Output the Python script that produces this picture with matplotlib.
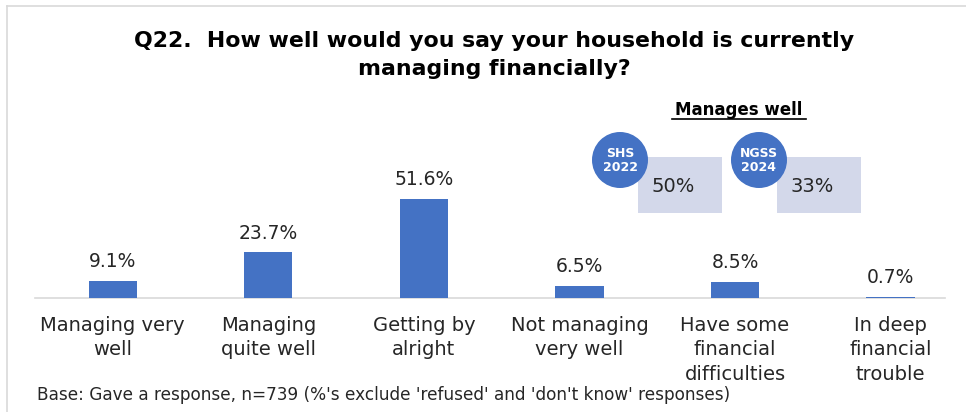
import matplotlib.pyplot as plt
from matplotlib.patches import Rectangle, Circle

categories = [
    "Managing very\nwell",
    "Managing\nquite well",
    "Getting by\nalright",
    "Not managing\nvery well",
    "Have some\nfinancial\ndifficulties",
    "In deep\nfinancial\ntrouble",
]
values = [9.1, 23.7, 51.6, 6.5, 8.5, 0.7]

compare_labels = ["SHS\n2022", "NGSS\n2024"]
compare_values = [50, 33]

title = "Q22.  How well would you say your household is currently\nmanaging financially?"
footnote = "Base: Gave a response, n=739 (%'s exclude 'refused' and 'don't know' responses)"

BAR = "#4472C4"
TEXT = "#262626"
FONT = "DejaVu Sans"

fig = plt.figure(figsize=(9.66, 4.12), dpi=100)

# main bar chart
ax = fig.add_axes([35 / 966, 1 - 298 / 412, 910 / 966, 198 / 412])
ax.patch.set_visible(False)
x = range(len(categories))
ax.bar(x, values, width=0.31, color=BAR, zorder=3)
ax.set_xlim(-0.5, 5.35)
ax.set_ylim(0, 103)
for xi, v in zip(x, values):
    ax.text(xi, v + 5, f"{v:.1f}%", ha="center", va="bottom",
            fontsize=13.5, color=TEXT, family=FONT)
for side in ["top", "right", "left"]:
    ax.spines[side].set_visible(False)
ax.spines["bottom"].set_color("#d9d9d9")
ax.spines["bottom"].set_linewidth(1.2)
ax.spines["bottom"].set_zorder(1)
ax.set_yticks([])
ax.set_xticks(list(x))
ax.set_xticklabels(categories, fontsize=14, color=TEXT, family=FONT,
                   linespacing=1.35, va="top")
ax.tick_params(axis="x", length=0, pad=13)

# overlay in pixel coordinates for title, frame and comparison boxes
ov = fig.add_axes([0, 0, 1, 1], zorder=3)
ov.set_xlim(0, 966)
ov.set_ylim(412, 0)
ov.axis("off")
ov.plot([7, 7], [6, 412], color="#d9d9d9", lw=1.2)
ov.plot([7, 966], [6, 6], color="#d9d9d9", lw=1.2)

ov.text(494, 55, title, ha="center", va="center", fontsize=15.8,
        fontweight="bold", family=FONT, color="black",
        linespacing=1.5)

ov.text(739, 110, "Manages well", ha="center", va="center", fontsize=12,
        fontweight="bold", family=FONT, color="black")
ov.plot([672, 806], [119, 119], color="black", lw=1.2)

for i, (lab, val) in enumerate(zip(compare_labels, compare_values)):
    dx = i * 139
    ov.add_patch(Rectangle((638 + dx, 157), 84, 56, facecolor="#d3d8ea",
                           edgecolor="none"))
    ov.add_patch(Circle((620 + dx, 160), 28, facecolor=BAR,
                        edgecolor="none", zorder=3))
    ov.text(620 + dx, 160, lab, ha="center", va="center", fontsize=9,
            fontweight="bold", color="white", family=FONT,
            linespacing=1.1, zorder=4)
    ov.text(673 + dx, 186, f"{val}%", ha="center", va="center",
            fontsize=14, color=TEXT, family=FONT, zorder=4)

ov.text(37, 395, footnote, ha="left", va="center", fontsize=12.2,
        color=TEXT, family=FONT)

fig.savefig("out.png", dpi=100)
